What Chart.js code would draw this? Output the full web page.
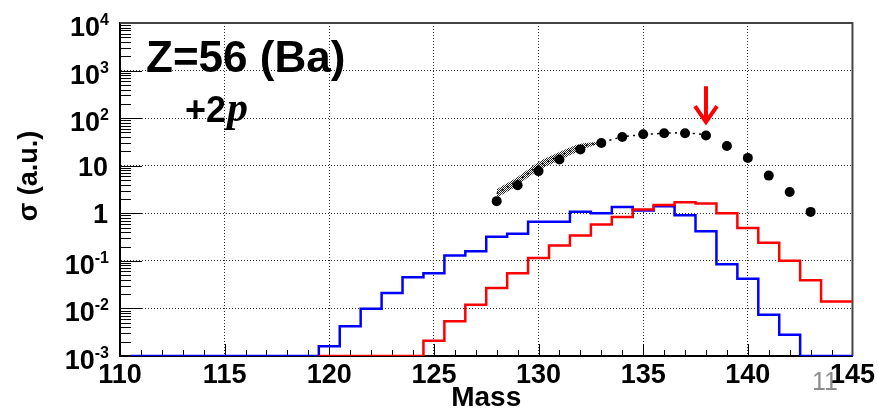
<!DOCTYPE html>
<html>
<head>
<meta charset="utf-8">
<script src="https://cdn.jsdelivr.net/npm/chart.js@4.4.1/dist/chart.umd.min.js"></script>
<style>
  html, body { margin: 0; padding: 0; background: #fff; }
</style>
</head>
<body>
<canvas id="graph_mass" width="878" height="412"></canvas>
<script>
// axis ticks
const xTicks = [110, 115, 120, 125, 130, 135, 140, 145];
const yTicks = [1e-3, 1e-2, 1e-1, 1, 10, 1e2, 1e3, 1e4];

// blue histogram (bin centres, 1 u wide)
const blueMass = [111, 112, 113, 114, 115, 116, 117, 118, 119, 120, 121, 122, 123, 124, 125, 126, 127, 128,
    129, 130, 131, 132, 133, 134, 135, 136, 137, 138, 139, 140, 141, 142, 143, 144, 145];
const blueSigma = [0.001, 0.001, 0.001, 0.001, 0.001, 0.001, 0.001, 0.001, 0.001, 0.0016, 0.0042, 0.0098, 0.021,
    0.045, 0.055, 0.13, 0.16, 0.32, 0.37, 0.66, 0.66, 1.08, 1.0, 1.36, 1.15, 1.4, 0.91, 0.42, 0.085, 0.042,
    0.0074, 0.0028, 0.001, 0.001, 0.001];

// red histogram
const redMass = [120, 121, 122, 123, 124, 125, 126, 127, 128, 129, 130, 131, 132, 133, 134, 135, 136, 137,
    138, 139, 140, 141, 142, 143, 144, 145];
const redSigma = [0.001, 0.001, 0.001, 0.001, 0.001, 0.0021, 0.0054, 0.012, 0.027, 0.055, 0.115, 0.21, 0.34,
    0.58, 0.84, 1.2, 1.5, 1.7, 1.6, 1.0, 0.49, 0.24, 0.10, 0.039, 0.014, 0.014];

// measured points
const dataMass = [128, 129, 130, 131, 132, 133, 134, 135, 136, 137, 138, 139, 140, 141, 142, 143];
const dataSigma = [1.8, 3.9, 7.7, 13.5, 22, 30, 40, 46, 48, 48, 43, 26, 14.6, 6.2, 2.8, 1.07];

// systematic band and its central curve
const bandMass = [128, 129, 130, 131, 132, 133];
const bandHigh = [3.2, 5.8, 12, 19.5, 29, 32];
const bandLow = [2.1, 3.9, 8, 13, 21, 30];
const curveMass = [128, 129, 130, 131, 132, 133, 134, 135, 136, 137, 138];
const curveSigma = [2.6, 4.8, 9.8, 16, 25, 31, 40, 45, 48, 49, 45];

const arrowMass = 138;
const arrowTail = 470;
const arrowTip = 75;

const font_family = '"Liberation Sans", Arial, sans-serif';
Chart.defaults.font.family = font_family;

const toPoints = (xs, ys) => xs.map((x, i) => ({x: x, y: ys[i]}));

const histPoints = (mass, sigma) => {
    const pts = mass.map((m, i) => ({x: m - 0.5, y: sigma[i]}));
    pts.push({x: mass[mass.length - 1] + 0.5, y: sigma[sigma.length - 1]});
    return pts;
};

// dotted fill for the band
const dot_canvas = document.createElement('canvas');
dot_canvas.width = 2;
dot_canvas.height = 2;
const dot_ctx = dot_canvas.getContext('2d');
dot_ctx.fillStyle = '#222';
dot_ctx.fillRect(0, 0, 1, 1);
dot_ctx.fillRect(1, 1, 1, 1);
const dot_pattern = dot_ctx.createPattern(dot_canvas, 'repeat');

// minor ticks, frame and labels
const decorations = {
    id: 'decorations',
    beforeDatasetsDraw(chart) {
        const ctx = chart.ctx;
        const {left, right, top, bottom} = chart.chartArea;
        const sx = chart.scales.x;
        const sy = chart.scales.y;
        ctx.save();
        ctx.strokeStyle = '#000';
        ctx.lineWidth = 1;
        ctx.beginPath();
        yTicks.forEach((v, i) => {
            const py = Math.round(sy.getPixelForValue(v)) + 0.5;
            ctx.moveTo(left, py);
            ctx.lineTo(left + 22, py);
            if (i < yTicks.length - 1) {
                for (let m = 2; m <= 9; m++) {
                    const pm = Math.round(sy.getPixelForValue(m * v)) + 0.5;
                    ctx.moveTo(left, pm);
                    ctx.lineTo(left + 11, pm);
                }
            }
        });
        for (let m = xTicks[0]; m <= xTicks[xTicks.length - 1]; m++) {
            const px = Math.round(sx.getPixelForValue(m)) + 0.5;
            ctx.moveTo(px, bottom);
            ctx.lineTo(px, bottom - (m % 5 === 0 ? 12 : 6));
        }
        ctx.stroke();

        // top and right edges of the frame
        ctx.strokeStyle = '#444';
        ctx.lineWidth = 2;
        ctx.beginPath();
        ctx.moveTo(left, top);
        ctx.lineTo(right, top);
        ctx.lineTo(right, bottom);
        ctx.stroke();

        // y tick labels with exponents
        ctx.fillStyle = '#000';
        yTicks.forEach((v) => {
            const py = sy.getPixelForValue(v);
            const k = Math.round(Math.log10(v));
            ctx.textAlign = 'right';
            ctx.textBaseline = 'alphabetic';
            if (k === 0 || k === 1) {
                ctx.font = 'bold 27px ' + font_family;
                ctx.fillText(k === 0 ? '1' : '10', 108, py + 10);
            } else {
                ctx.font = 'bold 16px ' + font_family;
                const sup = String(k);
                const sw = ctx.measureText(sup).width;
                ctx.fillText(sup, 109, py + 2);
                ctx.font = 'bold 27px ' + font_family;
                ctx.fillText('10', 109 - sw, py + 13);
            }
        });

        // y axis title
        ctx.save();
        ctx.translate(30, 176);
        ctx.rotate(-Math.PI / 2);
        ctx.textAlign = 'center';
        ctx.textBaseline = 'middle';
        ctx.font = 'bold 27px ' + font_family;
        ctx.fillText('\u03c3 (a.u.)', 0, 0);
        ctx.restore();

        // element label
        ctx.textAlign = 'left';
        ctx.textBaseline = 'alphabetic';
        ctx.font = 'bold 44px ' + font_family;
        ctx.fillText('Z=56 (Ba)', 146, 72);
        ctx.font = 'bold 36px ' + font_family;
        ctx.fillText('+2', 185, 122);
        const w2 = ctx.measureText('+2').width;
        ctx.font = 'italic bold 42px "Liberation Serif", "Times New Roman", serif';
        ctx.fillText('p', 185 + w2 + 1, 121);
        ctx.restore();
    },
    afterDraw(chart) {
        const ctx = chart.ctx;
        const sx = chart.scales.x;
        const sy = chart.scales.y;
        const ax = sx.getPixelForValue(arrowMass);
        const y0 = sy.getPixelForValue(arrowTail);
        const y1 = sy.getPixelForValue(arrowTip);
        ctx.save();
        ctx.strokeStyle = '#ff0000';
        ctx.lineWidth = 4;
        ctx.lineCap = 'butt';
        ctx.lineJoin = 'miter';
        ctx.beginPath();
        ctx.moveTo(ax, y0);
        ctx.lineTo(ax, y1 - 2);
        ctx.moveTo(ax - 11, y1 - 18);
        ctx.lineTo(ax, y1 - 2);
        ctx.lineTo(ax + 11, y1 - 18);
        ctx.stroke();

        // slide number
        ctx.fillStyle = '#8c8c8c';
        ctx.font = '25px ' + font_family;
        ctx.textAlign = 'left';
        ctx.textBaseline = 'alphabetic';
        ctx.fillText('11', 812, 390);
        ctx.restore();
    }
};

const graph_mass = document.getElementById('graph_mass').getContext('2d');

const mass_chart = new Chart(graph_mass, {
    type: 'line',
    data: {
        datasets: [
            {
                label: 'data',
                data: toPoints(dataMass, dataSigma),
                showLine: false,
                pointRadius: 5,
                pointBackgroundColor: '#000',
                pointBorderWidth: 0,
                order: 0
            },
            {
                label: 'red',
                data: histPoints(redMass, redSigma),
                stepped: true,
                borderColor: '#ff0000',
                borderWidth: 2.5,
                pointRadius: 0,
                fill: false,
                order: 1
            },
            {
                label: 'blue',
                data: histPoints(blueMass, blueSigma),
                stepped: true,
                borderColor: '#0000ff',
                borderWidth: 2.5,
                pointRadius: 0,
                fill: false,
                order: 2
            },
            {
                label: 'curve',
                data: toPoints(curveMass, curveSigma),
                borderColor: '#000',
                borderWidth: 1.5,
                borderDash: [2, 4],
                pointRadius: 0,
                tension: 0.3,
                fill: false,
                order: 3
            },
            {
                label: 'band low',
                data: toPoints(bandMass, bandLow),
                borderWidth: 0,
                pointRadius: 0,
                tension: 0.3,
                fill: false,
                order: 5
            },
            {
                label: 'band high',
                data: toPoints(bandMass, bandHigh),
                borderWidth: 0,
                pointRadius: 0,
                tension: 0.3,
                backgroundColor: dot_pattern,
                fill: '-1',
                order: 4
            }
        ]
    },
    plugins: [decorations],
    options: {
        responsive: false,
        devicePixelRatio: 1,
        animation: false,
        layout: {
            padding: {top: 23, right: 25, left: 0, bottom: 0}
        },
        plugins: {
            legend: {display: false},
            tooltip: {enabled: false}
        },
        scales: {
            x: {
                type: 'linear',
                min: 110,
                max: 145,
                afterBuildTicks: (scale) => {
                    scale.ticks = xTicks.map((v) => ({value: v}));
                },
                afterFit: (scale) => {
                    scale.height = 56;
                },
                ticks: {
                    color: '#000',
                    padding: 3,
                    maxRotation: 0,
                    autoSkip: false,
                    font: {size: 27, weight: 'bold'}
                },
                grid: {
                    color: '#333',
                    lineWidth: 1,
                    drawTicks: false
                },
                border: {
                    display: true,
                    color: '#000',
                    width: 2,
                    dash: [1, 2]
                },
                title: {
                    display: true,
                    text: 'Mass',
                    color: '#000',
                    padding: 0,
                    font: {size: 28, weight: 'bold', lineHeight: 1}
                }
            },
            y: {
                type: 'logarithmic',
                min: 1e-3,
                max: 1e4,
                afterBuildTicks: (scale) => {
                    scale.ticks = yTicks.map((v) => ({value: v}));
                },
                afterFit: (scale) => {
                    scale.width = 120;
                },
                ticks: {display: false},
                grid: {
                    color: '#333',
                    lineWidth: 1,
                    drawTicks: false
                },
                border: {
                    display: true,
                    color: '#000',
                    width: 2,
                    dash: [1, 2]
                }
            }
        }
    }
});
</script>
</body>
</html>
